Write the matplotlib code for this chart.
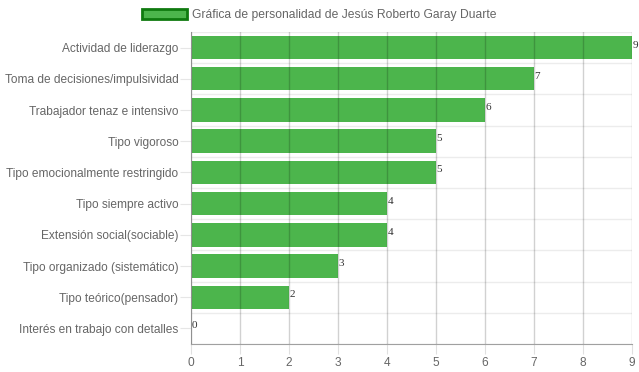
import matplotlib
matplotlib.use("Agg")
import matplotlib.pyplot as plt
from matplotlib.patches import Patch

categories = ["Actividad de liderazgo", "Toma de decisiones/impulsividad",
              "Trabajador tenaz e intensivo", "Tipo vigoroso",
              "Tipo emocionalmente restringido", "Tipo siempre activo",
              "Extensión social(sociable)", "Tipo organizado (sistemático)",
              "Tipo teórico(pensador)", "Interés en trabajo con detalles"]
values = [9, 7, 6, 5, 5, 4, 4, 3, 2, 0]
xticks = list(range(0, 10))
legend_label = "Gráfica de personalidad de Jesús Roberto Garay Duarte"

plt.rcParams['font.family'] = ['Liberation Sans', 'DejaVu Sans']
fig = plt.figure(figsize=(6.39, 3.72), dpi=100)
ax = fig.add_axes([191/639, 1-344/372, (632-191)/639, (344-32)/372])

n = len(categories)
ypos = list(range(n))
ax.set_ylim(n - 0.5, -0.5)
ax.set_xlim(0, 9)

# grid
for x in xticks:
    ax.axvline(x, color='black', alpha=0.18, lw=1, zorder=3)
for i in range(n + 1):
    ax.axhline(i - 0.5, color='#ececec', lw=1, zorder=1)

ax.barh(ypos, values, height=0.75, color='#4cb54c',
        edgecolor='none', zorder=2)
for y, v in zip(ypos, values):
    ax.text(v + 0.01, y - 0.08, str(v), fontsize=8, color='#333333',
            va='center', ha='left', family=['Liberation Serif'], zorder=5)

ax.set_yticks(ypos)
ax.set_yticklabels(categories, fontsize=8.6, color='#666666')
ax.set_xticks(xticks)
ax.set_xticklabels([str(x) for x in xticks], fontsize=8.6, color='#666666')
ax.tick_params(axis='y', length=8, color='#e6e6e6', pad=1)
ax.tick_params(axis='x', length=7, color='#e0e0e0', pad=2)
for s in ['top', 'right']:
    ax.spines[s].set_visible(False)
ax.spines['left'].set_color('#b0b0b0')
ax.spines['bottom'].set_color('#a0a0a0')

handle = Patch(facecolor='#4cb54c', edgecolor='#0f7a0f', linewidth=2)
fig.legend([handle], [legend_label], loc='upper center',
           bbox_to_anchor=(0.5, 1.0), frameon=False, fontsize=8.75,
           labelcolor='#666666', handlelength=3.7, handleheight=0.95,
           handletextpad=0.45, borderaxespad=0.3)

fig.savefig("out.png", dpi=100)
